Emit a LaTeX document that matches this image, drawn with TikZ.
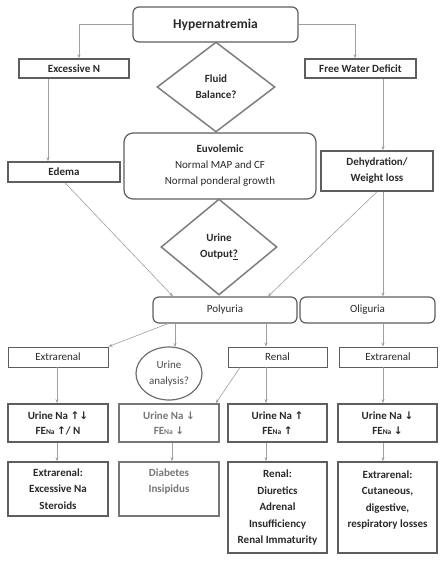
\documentclass[tikz,border=0pt]{standalone}
\usepackage{fontspec}
\setmainfont{Carlito}
\newfontfamily\symf{DejaVu Sans}
\usetikzlibrary{shapes.geometric,arrows.meta}
\newcommand{\up}{{\symf\fontsize{10.5}{10}\selectfont ↑}}
\newcommand{\dn}{{\symf\fontsize{10.5}{10}\selectfont ↓}}
\newcommand{\fena}{FE{\fontsize{7.5}{8}\selectfont Na}}
\definecolor{bord}{HTML}{5E5E5E}
\definecolor{lin}{HTML}{A0A0A0}
\definecolor{txt}{HTML}{2A2A2A}
\definecolor{gtxt}{HTML}{777777}
\tikzset{
  base/.style={draw=bord, text=txt, align=center, inner sep=1pt, font=\fontsize{11}{16}\selectfont},
  thick box/.style={base, line width=1.6pt, font=\bfseries\fontsize{11}{16}\selectfont},
  thin box/.style={base, line width=0.9pt},
  round box/.style={base, line width=1.2pt, rounded corners=6pt},
  dia/.style={base, diamond, draw=bord!80, line width=1.5pt, font=\bfseries\fontsize{11}{16}\selectfont},
  low/.style={font=\bfseries\fontsize{11}{16.5}\selectfont},
  arr/.style={draw=lin, line width=0.6pt, -{Stealth[length=4pt,width=3pt]}},
}
\begin{document}
\begin{tikzpicture}[x=1pt,y=-1pt]
\useasboundingbox[fill=white] (0,0) rectangle (443,561);
% top
\node[round box, minimum width=165, minimum height=35, font=\bfseries\fontsize{13.5}{15}\selectfont] (hyp) at (215.5,24.5) {Hypernatremia};
\node[thick box, minimum width=110, minimum height=19] (exN) at (74,68.5) {Excessive N};
\node[thick box, minimum width=111, minimum height=19] (fwd) at (360.5,68.5) {Free Water Deficit};
\node[dia, minimum width=118, minimum height=90, inner sep=0pt] (fb) at (216,87) {Fluid\\Balance?};
\node[round box, minimum width=192, minimum height=66, rounded corners=9pt] (euv) at (220,166) {\textbf{Euvolemic}\\Normal MAP and CF\\Normal ponderal growth};
\node[thick box, minimum width=112, minimum height=20] (edema) at (64,172) {Edema};
\node[thick box, minimum width=112, minimum height=40] (dehyd) at (377,171) {Dehydration/\\Weight loss};
\node[dia, minimum width=116, minimum height=96, inner sep=0pt] (uo) at (219,247) {Urine\\Output\underline{?}};
\node[round box, minimum width=144, minimum height=26] (poly) at (225,310) {Polyuria};
\node[round box, minimum width=135, minimum height=26] (olig) at (367.5,310) {Oliguria};
% third row
\node[thin box, minimum width=100, minimum height=20] (extL) at (58,357) {Extrarenal};
\node[base, ellipse, line width=1.2pt, draw=bord!90, minimum width=66, minimum height=53, inner sep=0pt, text=txt!85] (ua) at (169,373.5) {Urine\\analysis?};
\node[thin box, minimum width=99, minimum height=20] (renal) at (277.5,357) {Renal};
\node[thin box, minimum width=98, minimum height=20] (extR) at (388,357) {Extrarenal};
% urine Na row
\node[thick box, minimum width=100, minimum height=38, font=\bfseries\fontsize{11}{15}\selectfont] (na1) at (58,423) {Urine Na \up\dn\\\fena\ \up/ N};
\node[thick box, draw=bord!85, minimum width=100, minimum height=38, text=gtxt, font=\bfseries\fontsize{11}{15}\selectfont] (na2) at (169,423) {Urine Na \dn\\\fena\ \dn};
\node[thick box, minimum width=99, minimum height=38, font=\bfseries\fontsize{11}{15}\selectfont] (na3) at (277.5,423) {Urine Na \up\\\fena\ \up};
\node[thick box, minimum width=99, minimum height=38, font=\bfseries\fontsize{11}{15}\selectfont] (na4) at (387.5,423) {Urine Na \dn\\\fena\ \dn};
% bottom row
\node[thick box, low, minimum width=100, minimum height=54] (r1) at (58,489) {Extrarenal:\\Excessive Na\\Steroids};
\node[thick box, low, draw=bord!85, minimum width=100, minimum height=54, text=gtxt] (r2) at (169,489) {Diabetes\\Insipidus\\\mbox{}};
\node[thick box, low, minimum width=99, minimum height=91] (r3) at (277.5,507.5) {Renal:\\Diuretics\\Adrenal\\Insufficiency\\Renal Immaturity};
\node[thick box, low, minimum width=99, minimum height=91] (r4) at (387.5,507.5) {Extrarenal:\\Cutaneous,\\digestive,\\respiratory losses\\\mbox{}};
% connectors
\draw[arr] (hyp.west) -| ([xshift=5pt]exN.north);
\draw[arr] (hyp.east) -| ([xshift=-5.5pt]fwd.north);
\draw[arr] ([xshift=-26pt]exN.south) -- ([xshift=-16pt]edema.north);
\draw[arr] ([xshift=22.5pt]fwd.south) -- ([xshift=6pt]dehyd.north);
\draw[arr] ([xshift=1pt]edema.south) -- ([xshift=-52pt]poly.north);
\draw[arr] (dehyd.south) -- ([xshift=43pt]poly.north);
\draw[arr] ([xshift=6pt]dehyd.south) -- ([xshift=15.5pt]olig.north);
\draw[arr] ([xshift=-57pt]poly.south) -- (extL.north east);
\draw[arr] ([xshift=-50pt]poly.south) -- ([xshift=6pt,yshift=-0.6pt]ua.north);
\draw[arr] ([xshift=41pt]poly.south) -- ([xshift=-11.5pt]renal.north);
\draw[arr] ([xshift=15.5pt]olig.south) -- ([xshift=-5pt]extR.north);
\draw[arr] ([xshift=-1pt]extL.south) -- ([xshift=-1pt]na1.north);
\draw[arr] ([xshift=-37.5pt]renal.south) -- ([xshift=-4pt]na2.north east);
\draw[arr] ([xshift=-11.5pt]renal.south) -- ([xshift=-11.5pt]na3.north);
\draw[arr] ([xshift=-5pt]extR.south) -- ([xshift=-4.5pt]na4.north);
\draw[arr] ([xshift=-1pt]na1.south) -- ([xshift=-1pt]r1.north);
\draw[arr] ([xshift=3pt]na2.south) -- ([xshift=3pt]r2.north);
\draw[arr] ([xshift=-11.5pt]na3.south) -- ([xshift=-11.5pt]r3.north);
\draw[arr] ([xshift=-4.5pt]na4.south) -- ([xshift=-4.5pt]r4.north);
\end{tikzpicture}
\end{document}
